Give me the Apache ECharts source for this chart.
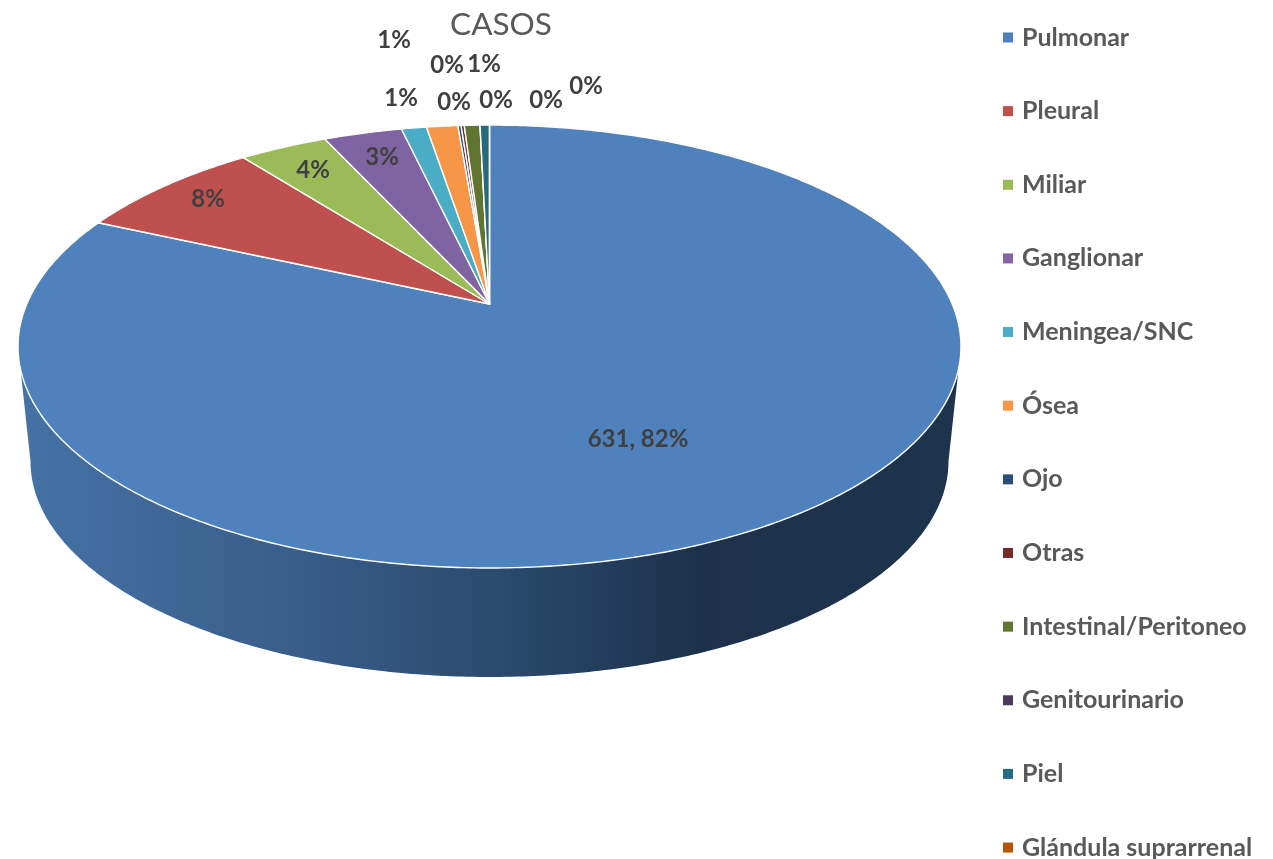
<!DOCTYPE html>
<html>
<head>
<meta charset="utf-8">
<title>CASOS</title>
<style>
  html, body { margin: 0; padding: 0; background: #fff; }
  #main { width: 1273px; height: 859px; }
</style>
<script src="https://cdn.jsdelivr.net/npm/echarts@6/dist/echarts.min.js"></script>
</head>
<body>
<div id="main"></div>
<script>
// datos
const categories = ['Pulmonar', 'Pleural', 'Miliar', 'Ganglionar', 'Meningea/SNC', 'Ósea', 'Ojo', 'Otras',
  'Intestinal/Peritoneo', 'Genitourinario', 'Piel', 'Glándula suprarrenal'];
const casos = [631, 60, 28, 25, 8, 10, 1, 1, 5, 0, 3, 0];
const colores = ['#4f81bd', '#c0504d', '#9bbb59', '#8064a2', '#4bacc6', '#f79646', '#2c4d75', '#772c2a',
  '#5f7530', '#4d3b62', '#276a7c', '#b65708'];
// posicion de cada etiqueta, colocadas a mano como en el original
const posEtiquetas = [[638, 439], [208, 199], [313, 170], [382, 157], [401, 98], [394, 40], [454, 102], [447, 65],
  [484, 64], [496, 100], [546, 100], [586, 86]];

const total = casos.reduce((a, b) => a + b, 0);

// tapa del pastel con perspectiva: el vertice no queda en el centro de la elipse
const cx = 489.5, apexY = 304;
const a = 462.7, b = 213.3, k = 0.192;
const centroTapaY = 346.5;
// borde inferior del cilindro
const centroBaseY = 461.4, escalaBase = 0.9735;

function tapa(t) {
  const w = 1 + k * Math.cos(t);
  return [cx + a * Math.sin(t) / w, apexY - b * Math.cos(t) / w];
}
function base(t) {
  const p = tapa(t);
  return [cx + (p[0] - cx) * escalaBase, centroBaseY + (p[1] - centroTapaY) * escalaBase];
}
function arco(fn, t0, t1) {
  const n = Math.max(2, Math.ceil((t1 - t0) / 0.01));
  const pts = [];
  for (let i = 0; i <= n; i++) pts.push(fn(t0 + (t1 - t0) * i / n));
  return pts;
}

const tDer = Math.acos(-k), tIzq = 2 * Math.PI - tDer;

function renderSector(idx) {
  let acum = 0;
  for (let i = 0; i < idx; i++) acum += casos[i];
  const t0 = acum / total * 2 * Math.PI;
  const t1 = (acum + casos[idx]) / total * 2 * Math.PI;
  const children = [];

  // pared lateral, solo la parte delantera
  const f0 = Math.max(t0, tDer), f1 = Math.min(t1, tIzq);
  if (f1 > f0) {
    children.push({
      type: 'polygon',
      z2: 1,
      shape: { points: arco(tapa, f0, f1).concat(arco(base, f0, f1).reverse()) },
      style: {
        fill: new echarts.graphic.LinearGradient(1, 0, 0, 0, [
          { offset: 0, color: '#1e334c' },
          { offset: 0.28, color: '#1d314a' },
          { offset: 0.49, color: '#2b4a6e' },
          { offset: 0.72, color: '#395f8b' },
          { offset: 1, color: '#4672a6' }
        ])
      }
    });
  }

  children.push({
    type: 'polygon',
    z2: 2,
    shape: { points: [[cx, apexY]].concat(arco(tapa, t0, t1)) },
    style: { fill: colores[idx], stroke: '#fff', lineWidth: 1.4, lineJoin: 'round' }
  });

  const pct = Math.round(casos[idx] / total * 100) + '%';
  children.push({
    type: 'text',
    z2: 10,
    style: {
      text: idx === 0 ? casos[idx] + ', ' + pct : pct,
      x: posEtiquetas[idx][0],
      y: posEtiquetas[idx][1],
      align: 'center',
      verticalAlign: 'middle',
      fill: '#404040',
      font: 'bold 24px Lato'
    }
  });
  return { type: 'group', children: children };
}

let myChart = echarts.init(document.getElementById('main'));
let option = {
  animation: false,
  title: {
    text: 'CASOS',
    left: 496,
    top: 4,
    textAlign: 'center',
    textStyle: { fontFamily: 'Lato', fontWeight: 'normal', fontSize: 31.5, color: '#595959' }
  },
  legend: {
    orient: 'vertical',
    left: 998,
    top: 20,
    height: 1000,
    itemWidth: 10,
    itemHeight: 10,
    itemGap: 48.64,
    icon: 'rect',
    selectedMode: false,
    data: categories,
    textStyle: { fontFamily: 'Lato', fontWeight: 'bold', fontSize: 25, color: '#595959', padding: [0, 0, 0, 4] }
  },
  series: categories.map((name, i) => ({
    name: name,
    type: 'custom',
    coordinateSystem: 'none',
    silent: true,
    itemStyle: { color: colores[i] },
    data: [casos[i]],
    renderItem: () => renderSector(i)
  }))
};
myChart.setOption(option);
</script>
</body>
</html>
